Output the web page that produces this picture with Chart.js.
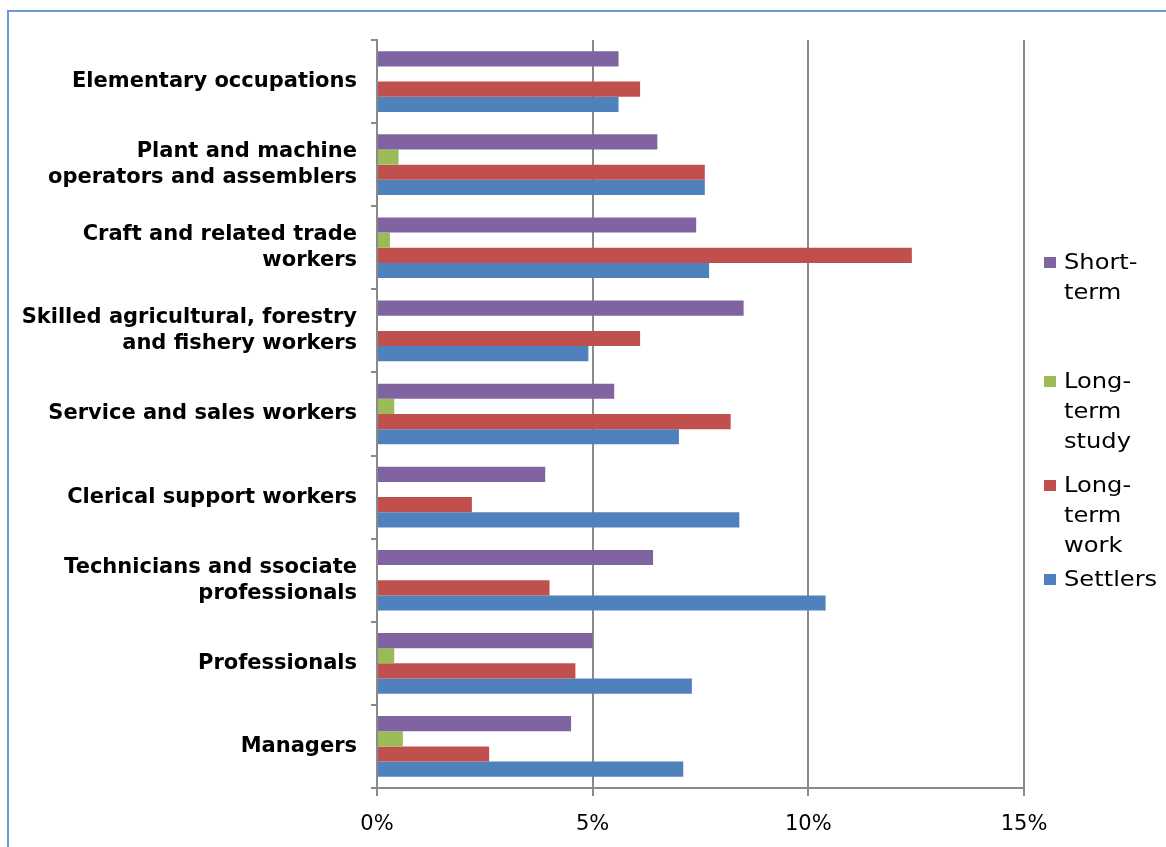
<!DOCTYPE html>
<html>
<head>
<meta charset="utf-8">
<script src="https://cdn.jsdelivr.net/npm/chart.js@4.4.1/dist/chart.umd.min.js"></script>
<style>
  body { margin: 0; background: #fff; overflow: hidden; }
  #wrap { position: relative; width: 1166px; height: 847px; }
  #frame { position: absolute; left: 7px; top: 10px; width: 1200px; height: 900px; border: 2px solid #6b9bd5; box-sizing: border-box; }
  #chart { position: absolute; left: 0; top: 0; }
  .leg { position: absolute; left: 1044px; font: 21px "DejaVu Sans", Verdana, sans-serif; line-height: 30px; color: #000; }
  .leg i { position: absolute; left: 0; top: 10px; width: 12px; height: 11px; }
  .leg span { display: block; margin-left: 20px; transform: scaleX(1.15); transform-origin: left center; }
</style>
</head>
<body>
<div id="wrap">
  <div id="frame"></div>
  <canvas id="chart" width="1166" height="847"></canvas>
  <div id="legend"></div>
</div>
<script>
const categories = [
  "Elementary occupations",
  ["Plant and machine", "operators and assemblers"],
  ["Craft and related trade", "workers"],
  ["Skilled agricultural, forestry", "and fishery workers"],
  "Service and sales workers",
  "Clerical support workers",
  ["Technicians and ssociate", "professionals"],
  "Professionals",
  "Managers",
];

const seriesNames = ["Short-term", "Long-term study", "Long-term work", "Settlers"];
const legendLines = [["Short-", "term"], ["Long-", "term", "study"], ["Long-", "term", "work"], ["Settlers"]];
const colors = ["#8064a2", "#9bbb59", "#c0504d", "#4f81bd"];

const shortTerm     = [5.6, 6.5, 7.4, 8.5, 5.5, 3.9, 6.4, 5.0, 4.5];
const longTermStudy = [0, 0.5, 0.3, 0, 0.4, 0, 0, 0.4, 0.6];
const longTermWork  = [6.1, 7.6, 12.4, 6.1, 8.2, 2.2, 4.0, 4.6, 2.6];
const settlers      = [5.6, 7.6, 7.7, 4.9, 7.0, 8.4, 10.4, 7.3, 7.1];

const xTicks = [0, 5, 10, 15];

const allSeries = [shortTerm, longTermStudy, longTermWork, settlers];
const font = '"DejaVu Sans", Verdana, sans-serif';
const gridColor = "#8a8a8a";

new Chart(document.getElementById("chart"), {
  type: "bar",
  data: {
    labels: categories,
    datasets: allSeries.map((d, i) => ({
      label: seriesNames[i],
      data: d,
      backgroundColor: colors[i],
      borderWidth: 0,
      categoryPercentage: 0.73,
      barPercentage: 1,
    })),
  },
  options: {
    indexAxis: "y",
    responsive: false,
    animation: false,
    layout: { padding: { top: 40, right: 142, left: 0, bottom: 0 } },
    plugins: { legend: { display: false }, tooltip: { enabled: false } },
    scales: {
      x: {
        min: 0,
        max: 15,
        afterBuildTicks: (s) => { s.ticks = xTicks.map((v) => ({ value: v })); },
        afterFit: (s) => { s.height = 59; },
        ticks: {
          callback: (v) => v + "%",
          color: "#000",
          font: { family: font, size: 21 },
          padding: 16,
          maxRotation: 0,
        },
        grid: { color: gridColor, lineWidth: 2, tickLength: 8 },
        border: { color: gridColor, width: 2 },
      },
      y: {
        afterFit: (s) => { s.width = 377; },
        ticks: {
          color: "#000",
          font: { family: font, size: 21, weight: "bold", lineHeight: 1.24 },
          padding: 14,
        },
        grid: { drawOnChartArea: false, color: gridColor, lineWidth: 2, tickLength: 6, offset: true },
        border: { color: gridColor, width: 2 },
      },
    },
  },
});

// legend: items sit beside the plot, one per series
const legendTops = [247, 366, 470, 564];
const legendEl = document.getElementById("legend");
legendLines.forEach((lines, i) => {
  const d = document.createElement("div");
  d.className = "leg";
  d.style.top = legendTops[i] + "px";
  d.innerHTML = '<i style="background:' + colors[i] + '"></i>' + lines.map((t) => "<span>" + t + "</span>").join("");
  legendEl.appendChild(d);
});
</script>
</body>
</html>
